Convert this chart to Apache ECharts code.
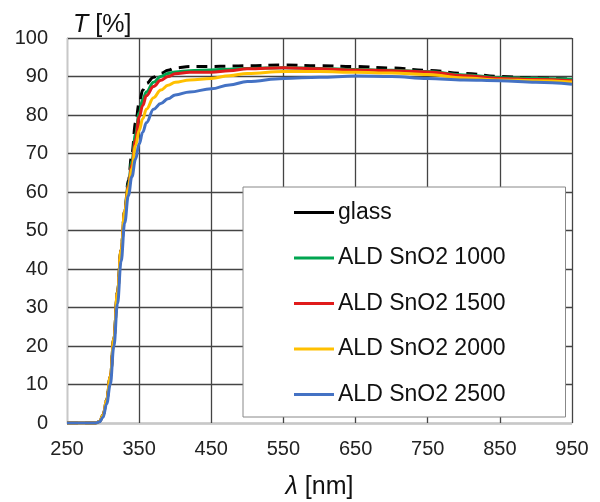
<!DOCTYPE html>
<html>
<head>
    <meta charset="utf-8">
    <title>Transmittance</title>
    <script type="text/javascript" src="https://cdn.jsdelivr.net/npm/echarts@6/dist/echarts.min.js"></script>
    <style type="text/css">
        html, body { margin: 0; padding: 0; background: #fff; }
        #main { width: 600px; height: 502px; }
    </style>
</head>
<body>
<div id="main"></div>

<script type="text/javascript">
    // wavelength [nm]
    var wavelength = [250, 280, 290, 295, 300, 305, 310, 315, 320, 325, 330, 335, 340, 345, 350, 355, 360, 370, 380, 390, 400, 420, 450, 475, 500, 550, 600, 650, 700, 750, 800, 850, 900, 950];

    // T [%]
    var glass   = [0, 0, 0, 0.5, 2, 6, 12, 22, 34, 45, 55, 63, 70, 78, 83, 86.5, 88.2, 89.8, 90.8, 91.6, 92.2, 92.6, 92.6, 92.7, 92.8, 93.0, 92.8, 92.6, 92.2, 91.6, 90.8, 90.0, 89.6, 89.3];
    var ald1000 = [0, 0, 0, 0.4, 2, 6, 12, 22, 34, 45, 55, 62, 68, 75, 80.5, 84, 86, 88.5, 90, 90.8, 91.2, 91.5, 91.7, 91.9, 92.1, 92.3, 92.1, 91.8, 91.6, 91.3, 90.4, 89.7, 89.5, 89.3];
    var ald1500 = [0, 0, 0, 0.4, 2, 6, 12, 22, 34, 45, 55, 61.5, 67, 73.5, 79.5, 82.5, 85, 87.4, 89, 90, 90.7, 91.1, 91.1, 91.5, 92.0, 92.3, 92.0, 91.7, 91.5, 91.2, 90.2, 89.5, 89.2, 88.9];
    var ald2000 = [0, 0, 0, 0.4, 2, 6, 12, 22, 34, 45, 55, 61, 66, 72, 76, 79, 81.5, 84.5, 86.5, 87.7, 88.5, 89.1, 89.5, 90.2, 90.8, 91.3, 91.3, 91.1, 90.9, 90.5, 89.6, 89.1, 88.9, 88.6];
    var ald2500 = [0, 0, 0, 0.3, 1.5, 5, 10, 20, 31, 42, 52, 59, 64, 68.5, 72.5, 75.5, 78, 81.5, 83, 84.2, 85.2, 86, 86.8, 87.8, 88.7, 89.5, 89.8, 90.1, 90.0, 89.5, 89.1, 88.9, 88.5, 88.0];

    var seriesNames = ['glass', 'ALD SnO2 1000', 'ALD SnO2 1500', 'ALD SnO2 2000', 'ALD SnO2 2500'];
    var seriesColors = ['#000000', '#00a550', '#e01b1b', '#ffc000', '#4472c4'];

    function pairs(arr) {
        var out = [];
        for (var i = 0; i < wavelength.length; i++) {
            out.push([wavelength[i], arr[i]]);
        }
        return out;
    }

    function makeLine(idx, arr, dashed) {
        return {
            name: seriesNames[idx],
            type: 'line',
            data: pairs(arr),
            symbol: 'none',
            smooth: 0.4,
            smoothMonotone: 'x',
            color: seriesColors[idx],
            lineStyle: {
                color: seriesColors[idx],
                width: 3,
                type: dashed ? [11, 7] : 'solid'
            },
            z: 2 + idx
        };
    }

    var myChart = echarts.init(document.getElementById('main'));

    var font = 'Liberation Sans, Arial, sans-serif';
    // legend icon: a plain 40x3 bar
    var barIcon = 'path://M0,0L40,0L40,3L0,3Z';

    var option = {
        animation: false,
        backgroundColor: '#fff',
        title: {
            text: '{i|T} [%]',
            left: 68,
            top: 8,
            textStyle: {
                fontFamily: font,
                fontSize: 25,
                fontWeight: 'normal',
                color: '#111',
                rich: {
                    i: { fontStyle: 'italic', fontSize: 25, fontFamily: font, color: '#111' }
                }
            }
        },
        legend: {
            orient: 'vertical',
            left: 243,
            top: 187,
            padding: [14, 60, 11, 51],
            itemWidth: 40,
            itemHeight: 22,
            itemGap: 22.5,
            icon: barIcon,
            backgroundColor: '#fff',
            borderColor: '#888',
            borderWidth: 1,
            z: 10,
            textStyle: { fontFamily: font, fontSize: 23, color: '#111', padding: [0, 0, 0, -1] },
            data: seriesNames
        },
        grid: {
            left: 67,
            right: 28,
            top: 38,
            bottom: 79,
            outerBoundsMode: 'none'
        },
        xAxis: {
            type: 'value',
            min: 250,
            max: 950,
            interval: 100,
            name: '{i|λ} [nm]',
            nameLocation: 'middle',
            nameGap: 52,
            nameTextStyle: {
                fontFamily: font,
                fontSize: 25,
                color: '#111',
                rich: {
                    i: { fontStyle: 'italic', fontSize: 25, fontFamily: font, color: '#111' }
                }
            },
            axisLine: { show: true, lineStyle: { color: '#c8c8c8', width: 1 } },
            axisTick: { show: false },
            axisLabel: { margin: 16, fontFamily: font, fontSize: 20, color: '#222' },
            splitLine: { show: true, lineStyle: { color: '#444', width: 1.3 } }
        },
        yAxis: {
            type: 'value',
            min: 0,
            max: 100,
            interval: 10,
            axisLine: { show: true, lineStyle: { color: '#c8c8c8', width: 1 } },
            axisTick: { show: false },
            axisLabel: { margin: 19, fontFamily: font, fontSize: 20, color: '#222' },
            splitLine: { show: true, lineStyle: { color: '#444', width: 1.3 } }
        },
        series: [
            makeLine(4, ald2500, false),
            makeLine(3, ald2000, false),
            makeLine(1, ald1000, false),
            makeLine(2, ald1500, false),
            makeLine(0, glass, true)
        ]
    };

    myChart.setOption(option);
</script>
</body>
</html>
